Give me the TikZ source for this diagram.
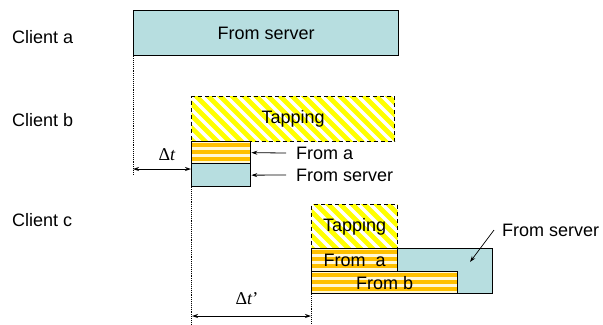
\documentclass[tikz,border=0pt]{standalone}
\usepackage{fontspec}
\setmainfont{Liberation Sans}
\newfontfamily\deltafont{Liberation Serif}
\usetikzlibrary{arrows.meta,calc}

\definecolor{srvcyan}{HTML}{B7DEE0}
\definecolor{tapyellow}{HTML}{FFFF00}
\definecolor{relayorange}{HTML}{FFC000}
\definecolor{relaypale}{HTML}{FFF8D8}

\begin{document}
\begin{tikzpicture}[x=1bp,y=-1bp,
  every node/.style={font=\fontsize{18bp}{21bp}\selectfont},
  box/.style={draw, line width=1.3bp, inner sep=0pt, anchor=north west},
  srv/.style={box, fill=srvcyan},
  tap/.style={box, dash pattern=on 4bp off 3bp, fill=white,
    path picture={
      \foreach \k in {-10,...,25}{
        \draw[tapyellow, solid, line width=4.6bp]
          ($(path picture bounding box.north west)+({12*\k},-5)$) -- ++(70,70);
      }}},
  relay/.style={box, fill=relaypale,
    path picture={
      \foreach \k in {0,...,4}{
        \fill[relayorange]
          ($(path picture bounding box.north west)+(0,{1.2+7.3*\k})$) rectangle ++(400,3.8);
      }}},
  client/.style={anchor=west, inner sep=0pt},
  note/.style={anchor=west, inner xsep=10bp, inner ysep=0pt},
  conn/.style={-{Stealth[length=6bp,width=4bp]}, line width=0.8bp},
  span/.style={{Stealth[length=6bp,width=4bp]}-{Stealth[length=6bp,width=4bp]}, line width=0.8bp},
  guide/.style={densely dotted, line width=0.9bp},
  delta/.style={font=\deltafont\fontsize{18bp}{21bp}\selectfont}
]
\useasboundingbox (0,0) rectangle (603,324);

% client labels
\node[client] (ca) at (12,37)  {Client a};
\node[client] (cb) at (12,120) {Client b};
\node[client] (cc) at (12,220) {Client c};

% client a: stream from the server
\node[srv, minimum width=265bp, minimum height=45bp] (srvA) at (133,10) {From server};

% client b
\node[tap, minimum width=203bp, minimum height=45bp] (tapB) at (191,96) {Tapping};
\node[relay, minimum width=59bp, minimum height=22bp] (relB) at (191,141) {};
\node[srv, minimum width=59bp, minimum height=23bp] (srvB) at (191,163) {};
\node[note] (lblRelB) at (286,153) {From a};
\node[note] (lblSrvB) at (286,175) {From server};
\draw[conn] (lblRelB.west) -- (relB.east);
\draw[conn] (lblSrvB.west) -- (srvB.east);

% delay of client b
\coordinate (gA) at (133,174);
\coordinate (dtL) at (133,169);
\coordinate (dtR) at (191,169);
\draw[guide] (srvA.south west) -- (gA);
\draw[span] (dtL) -- (dtR);
\node[delta] (dt) at (167,155) {Δ\textit{t}};

% client c
\node[srv, minimum width=181bp, minimum height=45bp] (srvC) at (311,248) {};
\node[tap, minimum width=86bp, minimum height=44bp] (tapC) at (311,204) {Tapping};
\node[relay, minimum width=86bp, minimum height=23bp] (relCa) at (311,248) {From\ \ a};
\node[relay, minimum width=146bp, minimum height=22bp] (relCb) at (311,271) {From b};
\node[note, inner xsep=8bp] (lblSrvC) at (494,230) {From server};
\coordinate (srvCpt) at (470,262);
\draw[conn, line width=0.7bp] (lblSrvC.west) -- (srvCpt);

% delay of client c
\coordinate (gB) at (191,324);
\coordinate (gC) at (311,324);
\coordinate (dtcL) at (192,316);
\coordinate (dtcR) at (311,316);
\draw[guide] (srvB.south west) -- (gB);
\draw[guide] (srvC.south west) -- (gC);
\draw[span] (dtcL) -- (dtcR);
\node[delta] (dtc) at (247,299) {Δ\textit{t}’};
\end{tikzpicture}
\end{document}
